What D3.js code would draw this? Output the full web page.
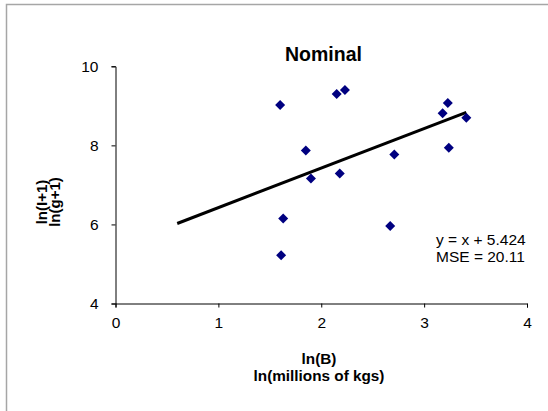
<!DOCTYPE html>
<html><head><meta charset="utf-8">
<script src="https://cdn.jsdelivr.net/npm/d3@7"></script>
<style>body{margin:0;background:#fff}svg{display:block}text{font-family:Arial,"Liberation Sans",sans-serif}</style>
</head><body>
<script>
const xValues = [1.60, 2.15, 2.23, 3.23, 3.18, 3.41, 1.85, 3.24, 2.71, 1.90, 2.18, 1.63, 2.67, 1.61];
const yValues = [9.02, 9.30, 9.40, 9.07, 8.81, 8.70, 7.87, 7.94, 7.77, 7.16, 7.29, 6.15, 5.96, 5.22];
const fitX = [0.6, 3.41];
const fitIntercept = 5.424;
const xTicks = [0, 1, 2, 3, 4];
const yTicks = [4, 6, 8, 10];

const W = 548, H = 411;
const svg = d3.select("body").append("svg").attr("width", W).attr("height", H);
svg.append("rect").attr("width", W).attr("height", H).attr("fill", "#fff");
svg.append("path").attr("d", `M6.5,${H+2}V4.5H${W+2}`).attr("fill","none").attr("stroke","#a6a6a6").attr("stroke-width",1.5);

const x = d3.scaleLinear().domain([0, 4]).range([115.5, 527]);
const y = d3.scaleLinear().domain([4, 10]).range([303.5, 66.3]);

const xa = svg.append("g").attr("transform", `translate(0,${y(4)})`)
  .call(d3.axisBottom(x).tickValues(xTicks).tickSize(4).tickPadding(9).tickFormat(d3.format("d")));
const ya = svg.append("g").attr("transform", `translate(${x(0)},0)`)
  .call(d3.axisLeft(y).tickValues(yTicks).tickSize(4).tickPadding(13).tickFormat(d3.format("d")));
[xa, ya].forEach(a => {
  a.attr("font-size", null);
  a.select(".domain").attr("stroke", "#000").attr("stroke-width", 1);
  a.selectAll(".tick line").attr("stroke", "#000");
  a.selectAll("text").attr("font-size", 15.5).attr("fill", "#000").attr("font-family", "Arial, 'Liberation Sans', sans-serif");
});

// fit line
svg.append("line")
  .attr("x1", x(fitX[0])).attr("y1", y(fitX[0] + fitIntercept))
  .attr("x2", x(fitX[1])).attr("y2", y(fitX[1] + fitIntercept))
  .attr("stroke", "#000").attr("stroke-width", 3);

// points
const pts = xValues.map((v, i) => [v, yValues[i]]);
svg.append("g").selectAll("path").data(pts).join("path")
  .attr("d", d3.symbol(d3.symbolSquare, 50))
  .attr("transform", d => `translate(${x(d[0])},${y(d[1])}) rotate(45)`)
  .attr("fill", "#000080");

svg.append("text").attr("x", 323.5).attr("y", 61).attr("text-anchor", "middle")
  .attr("font-size", 19.5).attr("font-weight", "bold").text("Nominal");

svg.append("text").attr("x", 436).attr("y", 245).attr("font-size", 15.5).text("y = x + 5.424");
svg.append("text").attr("x", 436).attr("y", 262).attr("font-size", 15.5).text("MSE = 20.11");

svg.append("text").attr("x", 319).attr("y", 363.5).attr("text-anchor", "middle")
  .attr("font-size", 15.3).attr("font-weight", "bold").text("ln(B)");
svg.append("text").attr("x", 319).attr("y", 380.5).attr("text-anchor", "middle")
  .attr("font-size", 15.3).attr("font-weight", "bold").text("ln(millions of kgs)");

const yt = svg.append("text").attr("transform", "translate(46.5,202) rotate(-90)")
  .attr("text-anchor", "middle").attr("font-size", 15).attr("font-weight", "bold");
yt.append("tspan").attr("x", 0).attr("y", 0).text("ln(I+1)");
yt.append("tspan").attr("x", 0).attr("y", 13.5).text("ln(g+1)");
</script>
</body></html>
